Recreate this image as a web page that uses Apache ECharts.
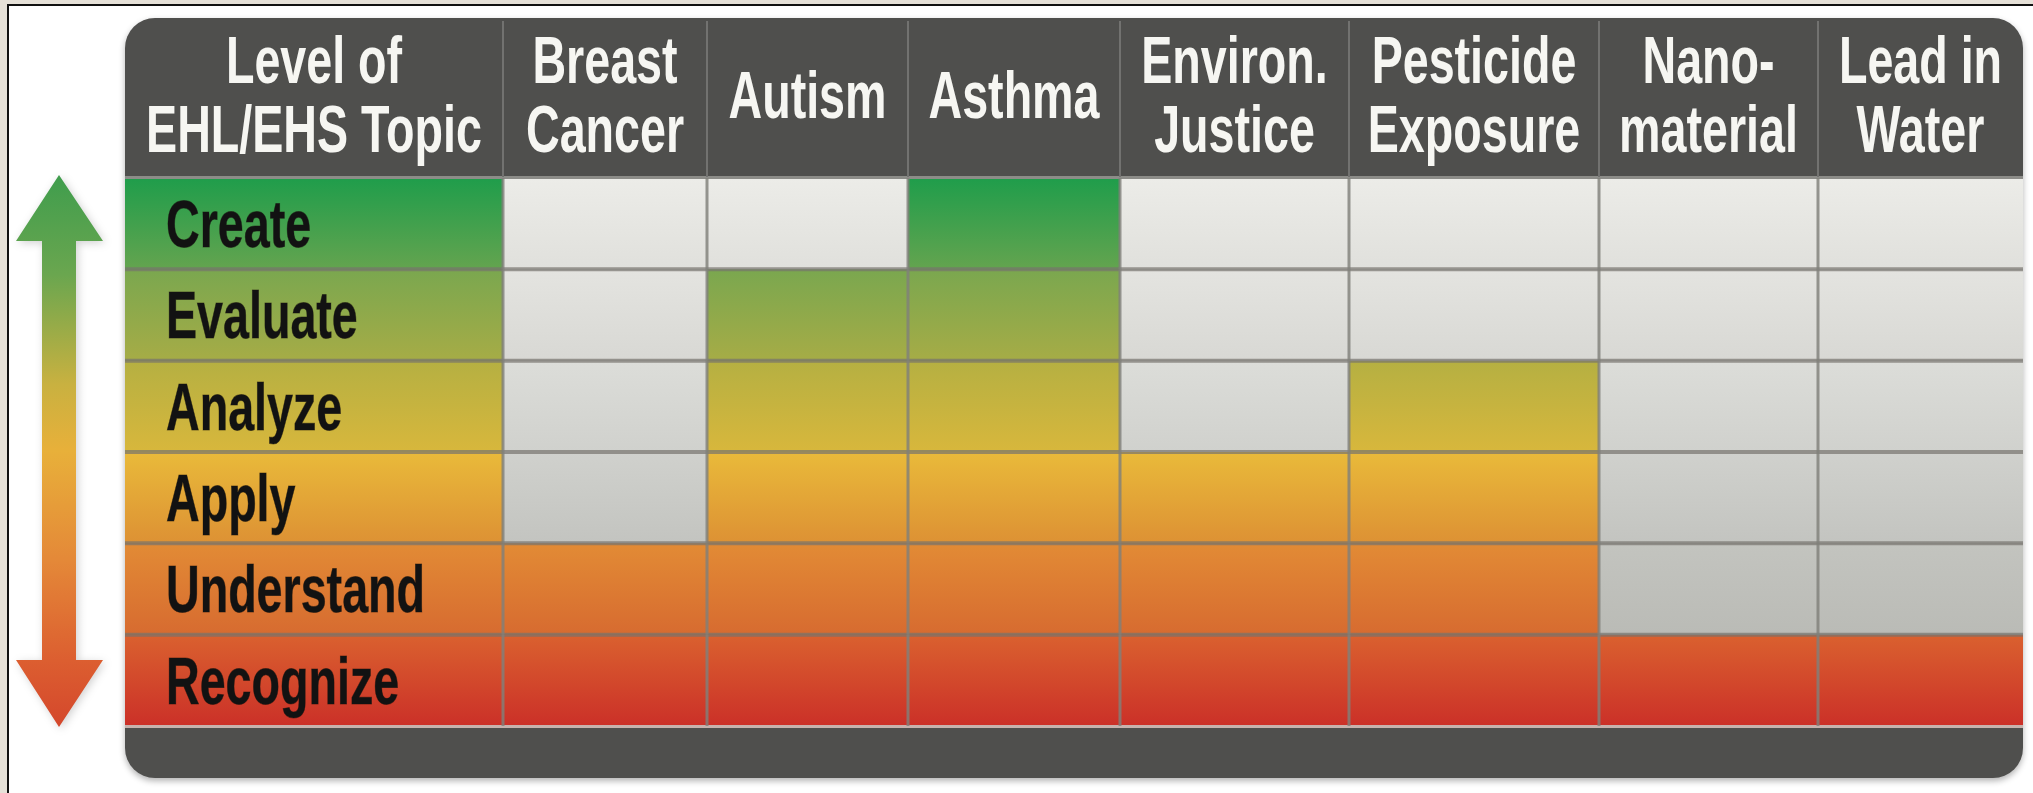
<!DOCTYPE html>
<html><head><meta charset="utf-8">
<script src="https://cdn.jsdelivr.net/npm/echarts@6/dist/echarts.min.js"></script>
<style>html,body{margin:0;padding:0;background:#e6e1d8;overflow:hidden}#chart{width:2033px;height:793px}</style>
</head><body><div id="chart"></div>
<script>
// ---- data ----
const levels = ['Recognize', 'Understand', 'Apply', 'Analyze', 'Evaluate', 'Create']; // bottom -> top
const headerTitle = 'Level of\nEHL/EHS Topic';
const topics = ['Breast\nCancer', 'Autism', 'Asthma', 'Environ.\nJustice', 'Pesticide\nExposure', 'Nano-\nmaterial', 'Lead in\nWater'];
const levelsReached = [2, 5, 6, 3, 4, 1, 1]; // number of levels reached, counted from Recognize

// ---- layout / style ----
const colWidths = [378, 204, 201, 212, 229, 250, 219, 205];
const edges = colWidths.reduce((a, w) => { a.push(a[a.length - 1] + w); return a; }, [0]);
const totalW = edges[edges.length - 1];
const headerH = 159;
const FONT = '"Liberation Sans",Arial,Helvetica,sans-serif';
const FONT_SIZE = 60;
const SCALE_X = 0.777;
const SCALE_Y = 1.1;

const colorGrad = [
  ['#da612f', '#cb3028'],
  ['#e28b35', '#d76b30'],
  ['#e9ba3a', '#dd9134'],
  ['#b5b042', '#d8b73c'],
  ['#7aa74f', '#a6ac46'],
  ['#1f9d4b', '#64a44f']
];
const greyGrad = [
  ['#bdbeb9', '#b6b7b2'],
  ['#c3c4bf', '#babbb6'],
  ['#d0d1cd', '#c3c4c0'],
  ['#dcddd9', '#d0d1cd'],
  ['#e4e4e0', '#d8d8d4'],
  ['#ecece8', '#e0e0dc']
];

function grad(pair) {
  return new echarts.graphic.LinearGradient(0, 0, 0, 1, [
    { offset: 0, color: pair[0] }, { offset: 1, color: pair[1] }
  ]);
}

const cellData = [];
for (let c = 0; c < colWidths.length; c++) {
  const reach = c === 0 ? levels.length : levelsReached[c - 1];
  for (let r = 0; r < levels.length; r++) cellData.push([c, r, r < reach ? 1 : 0]);
}
const headerData = [[0, levels.length - 1]].concat(topics.map((t, i) => [i + 1, levels.length - 1]));

function cellBox(api, c, r) {
  const x0 = api.coord([edges[c], r])[0];
  const x1 = api.coord([edges[c + 1], r])[0];
  const cy = api.coord([0, r])[1];
  const h = api.size([0, 1])[1];
  return { x0, x1, y0: cy - h / 2, y1: cy + h / 2, cy, h };
}

const chart = echarts.init(document.getElementById('chart'), null, { renderer: 'canvas' });
chart.setOption({
  animation: false,
  backgroundColor: 'transparent',
  grid: { left: 125, right: 10, top: 178, bottom: 67 },
  xAxis: { type: 'value', min: 0, max: totalW, show: false },
  yAxis: { type: 'category', data: levels, show: false },
  graphic: [
    { type: 'rect', z: 0, shape: { x: 8, y: 5, width: 2100, height: 900 }, style: { fill: '#ffffff', stroke: '#111111', lineWidth: 2 } },
    { type: 'rect', z: 0, shape: { x: 125, y: 18, width: totalW, height: 760, r: 30 },
      style: { fill: '#4f4f4d', shadowBlur: 6, shadowOffsetY: 3, shadowColor: 'rgba(0,0,0,0.3)' } },
    { type: 'polygon', z: 0,
      shape: { points: [[59, 175], [103, 241], [76, 241], [76, 660], [103, 660], [59, 727], [16, 660], [42, 660], [42, 241], [16, 241]] },
      style: {
        fill: new echarts.graphic.LinearGradient(0, 0, 0, 1, [
          { offset: 0, color: '#3f9d4d' }, { offset: 0.18, color: '#6aa64f' },
          { offset: 0.38, color: '#c9b140' }, { offset: 0.5, color: '#e8b03a' },
          { offset: 0.7, color: '#e48838' }, { offset: 0.88, color: '#dc5e30' },
          { offset: 1, color: '#d4472c' }
        ]),
        shadowBlur: 8, shadowOffsetX: 2, shadowOffsetY: 2, shadowColor: 'rgba(0,0,0,0.18)'
      } }
  ],
  series: [
    {
      type: 'custom', z: 2, clip: false,
      data: cellData,
      renderItem: function (params, api) {
        const c = api.value(0), r = api.value(1), on = api.value(2);
        const b = cellBox(api, c, r);
        const children = [{
          type: 'rect', shape: { x: b.x0, y: b.y0, width: b.x1 - b.x0, height: b.h },
          style: { fill: grad(on ? colorGrad[r] : greyGrad[r]) }
        }];
        if (c === 0) {
          children.push({
            type: 'text', x: b.x0 + 41, y: b.cy + 5, scaleX: SCALE_X, scaleY: SCALE_Y,
            style: {
              text: levels[r], fontFamily: FONT, fontWeight: 'bold', fontSize: FONT_SIZE,
              fill: '#121212', align: 'left', verticalAlign: 'middle',
              stroke: 'rgba(30,20,10,0.5)', lineWidth: 0.8
            }
          });
        }
        return { type: 'group', children };
      }
    },
    {
      type: 'custom', z: 3, clip: false,
      data: cellData,
      renderItem: function (params, api) {
        const c = api.value(0), r = api.value(1);
        const b = cellBox(api, c, r);
        const children = [];
        if (r < levels.length - 1) {
          children.push({ type: 'rect', shape: { x: b.x0, y: b.y0 - 2, width: b.x1 - b.x0, height: 4 },
            style: { fill: 'rgba(118,116,110,0.7)' } });
        } else {
          children.push({ type: 'rect', shape: { x: b.x0, y: b.y0 - 2, width: b.x1 - b.x0, height: 3 },
            style: { fill: '#8c8c88' } });
        }
        if (r === 0) {
          children.push({ type: 'rect', shape: { x: b.x0, y: b.y1 - 1, width: b.x1 - b.x0, height: 3 },
            style: { fill: '#c7b2ad' } });
        }
        if (c > 0) {
          children.push({ type: 'rect', shape: { x: b.x0 - 1.5, y: b.y0, width: 3, height: b.h },
            style: { fill: 'rgba(128,128,122,0.82)' } });
        }
        return { type: 'group', children };
      }
    },
    {
      type: 'custom', z: 4, clip: false,
      data: headerData,
      renderItem: function (params, api) {
        const c = api.value(0), r = api.value(1);
        const b = cellBox(api, c, r);
        const hb = b.y0 - 1, ht = hb - headerH;
        const children = [];
        if (c > 0) {
          children.push({ type: 'rect', shape: { x: b.x0 - 1, y: ht + 3, width: 2, height: headerH - 3 },
            style: { fill: '#727270' } });
        }
        children.push({
          type: 'text', x: (b.x0 + b.x1) / 2, y: (ht + hb) / 2 + 2, scaleX: SCALE_X, scaleY: SCALE_Y,
          style: {
            text: c === 0 ? headerTitle : topics[c - 1],
            fontFamily: FONT, fontWeight: 'bold', fontSize: FONT_SIZE, lineHeight: 63,
            fill: '#f6f6f2', align: 'center', verticalAlign: 'middle',
            shadowBlur: 3, shadowColor: 'rgba(0,0,0,0.6)'
          }
        });
        return { type: 'group', children };
      }
    }
  ]
});
</script></body></html>
